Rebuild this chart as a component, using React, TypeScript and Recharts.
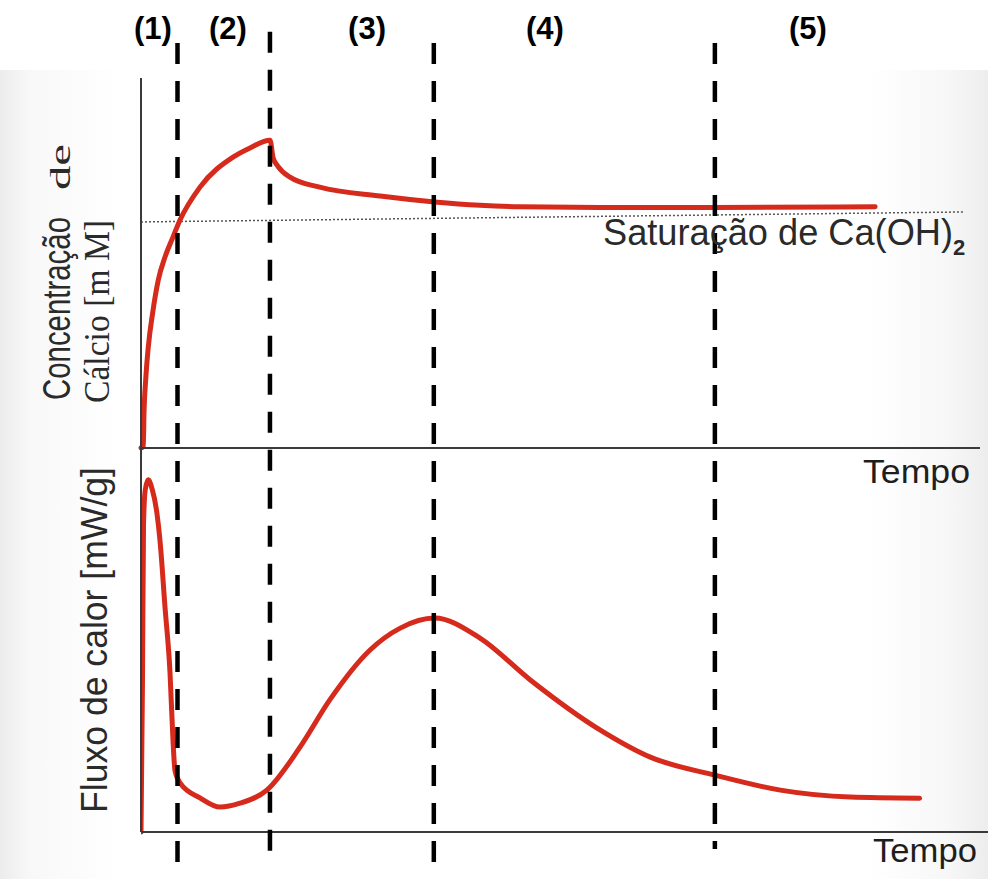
import React from 'react';
import { LineChart, Line, XAxis, YAxis, ReferenceLine, ReferenceDot } from 'recharts';

// Time axis (arbitrary units, 0..100)
const caTime = [0, 0.27, 0.36, 0.56, 0.87, 1.39, 2.06, 2.86, 3.81, 4.65, 7.03, 10.97, 12.99, 15.38, 15.75, 16.3, 17.76, 21.3, 28.5, 35.0, 40.4, 45.2, 54.7, 68.4, 87.5];
const caValues = [0, 0.04, 0.95, 1.84, 2.73, 3.65, 4.54, 5.16, 5.7, 6.16, 7.05, 7.86, 8.11, 8.32, 7.84, 7.62, 7.32, 7.05, 6.81, 6.65, 6.56, 6.52, 6.5, 6.5, 6.52];

const heatTime = [0, 0.18, 0.3, 0.5, 0.85, 1.3, 1.9, 2.26, 2.86, 3.46, 3.81, 4.05, 4.65, 7.03, 9.42, 11.8, 15.0, 18.95, 22.5, 27.3, 30.9, 35.0, 40.4, 46.4, 54.7, 60.7, 68.4, 76.2, 84.5, 92.8];
const heatValues = [0, 4.0, 8.0, 8.9, 9.17, 8.95, 8.3, 7.6, 5.86, 4.14, 2.4, 1.6, 1.28, 0.89, 0.65, 0.75, 1.09, 2.21, 3.44, 4.74, 5.31, 5.57, 5.05, 3.96, 2.66, 1.95, 1.48, 1.09, 0.91, 0.88];

// Saturation level of Ca(OH)2 (drawn slightly tilted like the scan)
const saturationStart = { t: 0, v: 6.11 };
const saturationEnd = { t: 98.2, v: 6.38 };

// Phase dividers (time) and their vertical extents (% of figure height from bottom)
const dividerTimes = [4.35, 15.37, 34.9, 68.4];
const dividerTop = [95.1, 96.4, 95.1, 95.1];
const dividerBottom = [0.8, 2.2, 0.8, 3.4];

// Phase labels
const phaseLabels = ['(1)', '(2)', '(3)', '(4)', '(5)'];
const phaseLabelTimes = [1.43, 10.37, 26.94, 48.15, 79.5];
const phaseLabelLevel = 96.8;

const caData = caTime.map((t, i) => ({ t, v: caValues[i] }));
const heatData = heatTime.map((t, i) => ({ t, v: heatValues[i] }));

const W = 988;
const H = 879;
const RED = '#d52a1c';
const AXIS = '#3a3a3a';
const SANS = '"Liberation Sans", Arial, sans-serif';
const SERIF = '"Liberation Serif", "Times New Roman", serif';

const abs: React.CSSProperties = { position: 'absolute', left: 0, top: 0 };

export default function App() {
  return (
    <div style={{ position: 'absolute', left: 0, top: 0, width: W, height: H, background: '#ffffff', overflow: 'hidden' }}>
      <div
        style={{
          position: 'absolute',
          left: 0,
          top: 70,
          width: W,
          height: H - 70,
          background: 'linear-gradient(to right, #ececec 0%, #f8f8f8 3%, #ffffff 12%, #ffffff 88%, #f7f7f7 96%, #ededed 100%)',
        }}
      />
      {/* Top panel: calcium concentration */}
      <div style={abs}>
        <LineChart width={W} height={H} data={caData} margin={{ top: 78, right: 8, bottom: 430, left: 140 }}>
          <XAxis type="number" dataKey="t" domain={[0, 100]} tick={false} tickLine={false} height={1} axisLine={{ stroke: AXIS, strokeWidth: 2 }} />
          <YAxis type="number" domain={[0, 10]} tick={false} tickLine={false} width={1} axisLine={{ stroke: AXIS, strokeWidth: 2 }} />
          <ReferenceLine
            segment={[{ x: saturationStart.t, y: saturationStart.v }, { x: saturationEnd.t, y: saturationEnd.v }]}
            stroke="#555"
            strokeWidth={1.5}
            strokeDasharray="2 2"
          />
          <Line type="monotone" dataKey="v" stroke={RED} strokeWidth={5} dot={false} isAnimationActive={false} strokeLinecap="round" />
        </LineChart>
      </div>
      {/* Bottom panel: heat flow */}
      <div style={abs}>
        <LineChart width={W} height={H} data={heatData} margin={{ top: 448, right: 0, bottom: 46, left: 140 }}>
          <XAxis type="number" dataKey="t" domain={[0, 100.95]} allowDataOverflow tick={false} tickLine={false} height={1} axisLine={{ stroke: AXIS, strokeWidth: 2 }} />
          <YAxis type="number" domain={[0, 10]} tick={false} tickLine={false} width={1} axisLine={{ stroke: AXIS, strokeWidth: 2 }} />
          <Line type="monotone" dataKey="v" stroke={RED} strokeWidth={5} dot={false} isAnimationActive={false} strokeLinecap="round" />
        </LineChart>
      </div>
      {/* Overlay: phase dividers and labels */}
      <div style={abs}>
        <LineChart width={W} height={H} data={caData} margin={{ top: 0, right: 8, bottom: 0, left: 141 }}>
          <XAxis type="number" dataKey="t" domain={[0, 100]} hide />
          <YAxis type="number" domain={[0, 100]} hide />
          <Line type="monotone" dataKey="v" stroke="none" dot={false} isAnimationActive={false} />
          {dividerTimes.map((t, i) => (
            <ReferenceLine
              key={'d' + i}
              segment={[{ x: t, y: dividerTop[i] }, { x: t, y: dividerBottom[i] }]}
              stroke="#000"
              strokeWidth={4.5}
              strokeDasharray="21 17"
            />
          ))}
          {phaseLabels.map((lab, i) => (
            <ReferenceDot
              key={'l' + i}
              x={phaseLabelTimes[i]}
              y={phaseLabelLevel}
              r={0}
              fill="none"
              stroke="none"
              label={{ value: lab, position: 'center', fill: '#000', fontSize: 31, fontWeight: 700, fontFamily: SANS }}
            />
          ))}
        </LineChart>
      </div>
      {/* Axis texts */}
      <svg width={W} height={H} style={{ ...abs, pointerEvents: 'none' }}>
        <text transform="translate(70,400) rotate(-90)" fontFamily={SANS} fontSize={38} fill="#2a2a2a" textLength={183} lengthAdjust="spacingAndGlyphs">Concentração</text>
        <text transform="translate(70,190) rotate(-90)" fontFamily={SERIF} fontSize={30} fill="#2a2a2a" textLength={46} lengthAdjust="spacingAndGlyphs">de</text>
        <text transform="translate(109,403) rotate(-90)" fontFamily={SERIF} fontSize={36} fill="#2a2a2a" textLength={183} lengthAdjust="spacingAndGlyphs">Cálcio [m M]</text>
        <text transform="translate(107,813) rotate(-90)" fontFamily={SANS} fontSize={36} fill="#2a2a2a" textLength={346} lengthAdjust="spacingAndGlyphs">Fluxo de calor [mW/g]</text>
        <text x={863} y={483} fontFamily={SANS} fontSize={34} fill="#1e1e1e" textLength={107} lengthAdjust="spacingAndGlyphs">Tempo</text>
        <text x={873} y={862} fontFamily={SANS} fontSize={34} fill="#1e1e1e" textLength={104} lengthAdjust="spacingAndGlyphs">Tempo</text>
        <text x={603} y={245} fontFamily={SANS} fontSize={36} fill="#2a2a2a" textLength={350} lengthAdjust="spacingAndGlyphs">Saturação de Ca(OH)</text>
        <text x={953} y={255} fontFamily={SANS} fontSize={22} fontWeight={700} fill="#2a2a2a">2</text>
      </svg>
    </div>
  );
}
